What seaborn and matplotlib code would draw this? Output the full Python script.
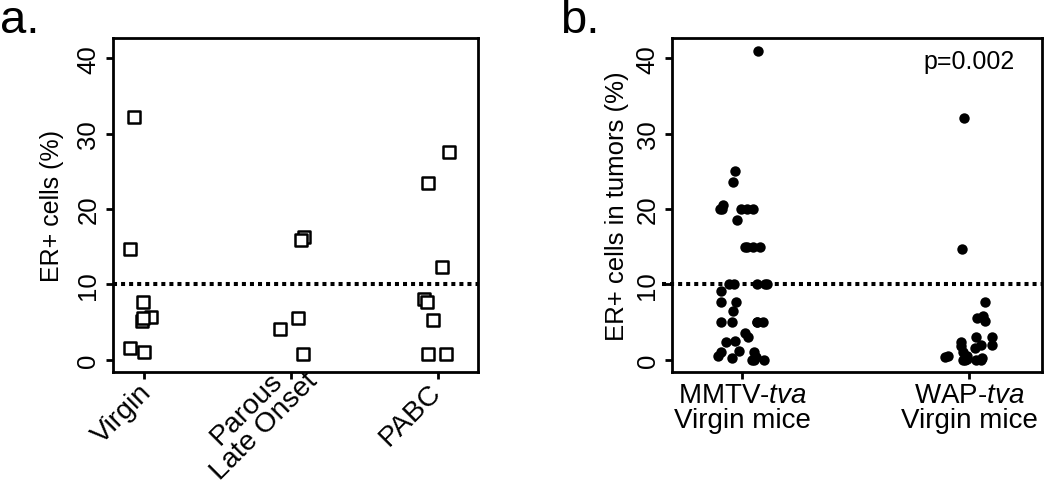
import numpy as np
import pandas as pd
import seaborn as sns
import matplotlib.pyplot as plt
from matplotlib import transforms

# panel a: ER+ cells in human tumours, by group
groups_a = ["Virgin", "Parous\nLate Onset", "PABC"]
virgin = [32.2, 14.7, 7.6, 5.6, 5.1, 5.5, 1.6, 1.0]
parous = [16.3, 15.9, 5.5, 4.0, 0.8]
pabc = [27.6, 23.5, 12.3, 8.1, 7.7, 5.2, 0.8, 0.7]

# panel b: ER+ cells in mouse tumours
groups_b = ["MMTV-$\\it{tva}$\nVirgin mice", "WAP-$\\it{tva}$\nVirgin mice"]
mmtv = [41.0, 25.0, 23.6, 20.6, 20.0, 20.0, 20.0, 20.0, 20.0, 18.5,
        15.0, 15.0, 15.0, 15.0, 10.0, 10.0, 10.0, 10.0, 10.0, 9.1,
        7.6, 7.6, 6.4, 5.0, 5.0, 5.0, 5.0, 5.0, 3.6, 3.0, 2.5, 2.4,
        1.1, 1.0, 1.0, 0.5, 0.3, 0.2, 0.0, 0.0, 0.0]
wap = [32.1, 14.7, 7.6, 5.8, 5.5, 5.1, 3.0, 3.0, 2.4, 2.0, 2.0, 1.8,
       1.5, 1.0, 0.5, 0.5, 0.3, 0.2, 0.1, 0.0, 0.0, 0.0, 0.0]

threshold = 10
p_text = "p=0.002"
yticks = [0, 10, 20, 30, 40]

df_a = pd.DataFrame({
    "group": [groups_a[0]] * len(virgin) + [groups_a[1]] * len(parous) + [groups_a[2]] * len(pabc),
    "value": virgin + parous + pabc,
})
df_b = pd.DataFrame({
    "group": [groups_b[0]] * len(mmtv) + [groups_b[1]] * len(wap),
    "value": mmtv + wap,
})

sns.set_style("ticks")
plt.rcParams["font.family"] = ["Liberation Sans", "DejaVu Sans"]
plt.rcParams["mathtext.fontset"] = "custom"
plt.rcParams["mathtext.rm"] = "Liberation Sans"
plt.rcParams["mathtext.it"] = "Liberation Sans:italic"
plt.rcParams["text.color"] = "black"
plt.rcParams["axes.labelcolor"] = "black"

np.random.seed(11)

fig = plt.figure(figsize=(10.5, 4.85), dpi=100)
ax_a = fig.add_axes([0.1076, 0.231, 0.3476, 0.689])
ax_b = fig.add_axes([0.640, 0.231, 0.3524, 0.689])

sns.stripplot(data=df_a, x="group", y="value", order=groups_a, jitter=0.1,
              marker="s", size=8, color="white", edgecolor="black",
              linewidth=1.8, ax=ax_a, zorder=3)
sns.stripplot(data=df_b, x="group", y="value", order=groups_b, jitter=0.11,
              marker="o", size=7.5, color="black", linewidth=0, ax=ax_b, zorder=3)

for ax in (ax_a, ax_b):
    ax.set_ylim(-1.64, 42.74)
    ax.set_yticks(yticks)
    ax.set_xlabel("")
    for sp in ax.spines.values():
        sp.set_visible(True)
        sp.set_linewidth(2.0)
        sp.set_color("black")
    ax.tick_params(width=2.0, length=5, color="black", labelcolor="black")
    ax.tick_params(axis="y", labelsize=18.5, pad=4)
    plt.setp(ax.get_yticklabels(), rotation=90, va="center")

ax_a.set_xlim(-0.21, 2.27)
ax_b.set_xlim(-0.31, 1.32)

ax_a.axhline(threshold, color="black", lw=2.9, ls=(0, (1, 1)),
             dash_capstyle="butt", zorder=2)
ax_b.axhline(threshold, xmin=-0.027, xmax=1, color="black", lw=2.9,
             ls=(0, (1, 1)), dash_capstyle="butt", zorder=2, clip_on=False)

# panel a category labels: rotated, placed like the R original
ax_a.set_xticklabels([])
label_shift = [(4, -16), (14, 4), (-1, -16)]
base = transforms.blended_transform_factory(ax_a.transData, ax_a.transAxes)
for i, (name, (dx, dy)) in enumerate(zip(groups_a, label_shift)):
    off = transforms.ScaledTranslation(dx / 100, dy / 100, fig.dpi_scale_trans)
    ax_a.text(i, 0, name, transform=base + off, rotation=45, ha="right",
              va="center", rotation_mode="anchor", multialignment="center",
              linespacing=0.95, fontsize=20.5)

ax_b.tick_params(axis="x", labelsize=20, pad=2)
plt.setp(ax_b.get_xticklabels(), linespacing=0.95)

ax_a.set_ylabel("ER+ cells (%)", fontsize=18, labelpad=9)
ax_b.set_ylabel("ER+ cells in tumors (%)", fontsize=18.5, labelpad=5)

ax_b.text(1, 39.6, p_text, ha="center", va="center", fontsize=18)

fig.text(0.0, 0.932, "a.", fontsize=34, ha="left", va="baseline")
fig.text(0.533, 0.932, "b.", fontsize=34, ha="left", va="baseline")

fig.savefig("out.png", dpi=100)
